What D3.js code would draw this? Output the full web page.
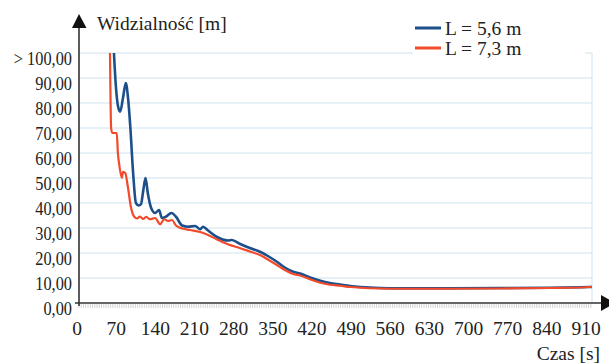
<!DOCTYPE html>
<html lang="pl">
<head>
<meta charset="UTF-8">
<title>Widzialność</title>
<script src="https://d3js.org/d3.v7.min.js"></script>
<style>
  body { margin: 0; background: #fff; }
</style>
</head>
<body>
<div id="chart"></div>
<script>
// time [s] and visibility [m] for both series (values above 100 are clipped)
const timeBlue = [62, 65, 69, 73, 78, 83, 87, 91, 96, 101, 106, 110, 114, 118, 122, 128, 135, 142, 147, 154, 164, 172, 183, 193, 206, 215, 220, 229, 244, 264, 271, 286, 303, 321, 335, 351, 365, 380, 392, 410, 428, 445, 463, 481, 499, 534, 569, 658, 747, 836, 889, 910];
const visBlue  = [100, 88, 79, 76.5, 82, 88, 82, 70.5, 52, 40, 39, 39.5, 45, 50, 44, 38, 36, 37.2, 34, 34.5, 36, 34.5, 31, 30.5, 30.8, 29.5, 30.5, 29, 26.5, 25, 25.2, 23.6, 22, 20.5, 18.8, 16.5, 14.2, 12.5, 11.8, 10.2, 8.9, 8.0, 7.4, 6.8, 6.4, 6.0, 5.9, 5.9, 6.0, 6.1, 6.3, 6.4];

const timeRed = [55, 57, 59, 67, 69, 71, 76, 78, 82, 87, 92, 98, 103, 108, 114, 119, 126, 135, 144, 151, 158, 165, 172, 183, 197, 215, 229, 244, 264, 286, 303, 321, 335, 351, 365, 380, 392, 410, 428, 445, 463, 481, 499, 534, 569, 658, 747, 836, 889, 910];
const visRed  = [100, 70, 68, 68, 60, 56, 50, 52.5, 52, 46, 38.5, 34.5, 33.8, 34.6, 33.6, 34.5, 33.5, 34, 31.5, 33.5, 32.8, 33.2, 31, 29.8, 29.2, 28.4, 27.2, 25.5, 23.5, 21.9, 20.6, 19.2, 17.4, 15.2, 13.2, 11.6, 11, 9.5, 8.1, 7.3, 6.9, 6.4, 6.1, 5.8, 5.7, 5.7, 5.8, 6.0, 6.2, 6.5];

const xTicks = [0, 70, 140, 210, 280, 350, 420, 490, 560, 630, 700, 770, 840, 910];
const yTicks = [0, 10, 20, 30, 40, 50, 60, 70, 80, 90, 100];
const yLabel = v => (v === 100 ? "> " : "") + v.toFixed(2).replace(".", ",");

const series = [
  { name: "L = 5,6 m", color: "#1d4f8b", width: 2.6, t: timeBlue, v: visBlue },
  { name: "L = 7,3 m", color: "#f24a2a", width: 2.2, t: timeRed, v: visRed }
];

const FONT = "'Liberation Serif', 'Times New Roman', 'DejaVu Serif', serif";
const W = 609, H = 364;
const svg = d3.select("#chart").append("svg")
  .attr("width", W)
  .attr("height", H)
  .attr("font-family", FONT)
  .style("font-family", FONT);

const x = d3.scaleLinear().domain([0, 910]).range([79, 592]);
// the category labels sit a little left of the plot scale
const xLab = d3.scaleLinear().domain([0, 910]).range([77, 586]);
const y = d3.scaleLinear().domain([0, 100]).range([303, 53]);

// gridlines
svg.append("g").selectAll("line")
  .data(yTicks.filter(d => d > 0))
  .enter().append("line")
  .attr("x1", x(0)).attr("x2", x(910))
  .attr("y1", d => y(d)).attr("y2", d => y(d))
  .attr("stroke", "#cde2ee").attr("stroke-width", 1);

svg.append("line")
  .attr("x1", x(910)).attr("x2", x(910))
  .attr("y1", y(100)).attr("y2", y(0))
  .attr("stroke", "#cde2ee").attr("stroke-width", 1);

// fine ticks under the x axis
svg.append("g").selectAll("line")
  .data(d3.range(0, 911, 4))
  .enter().append("line")
  .attr("x1", d => x(d)).attr("x2", d => x(d))
  .attr("y1", 304).attr("y2", 308)
  .attr("stroke", "#b8b8b8").attr("stroke-width", 0.6);

// lines
const line = d3.line().curve(d3.curveMonotoneX);
series.forEach(s => {
  const pts = s.t.map((t, i) => [x(t), y(s.v[i])]);
  svg.append("path")
    .attr("d", line(pts))
    .attr("fill", "none")
    .attr("stroke", s.color)
    .attr("stroke-width", s.width)
    .attr("stroke-linejoin", "round");
});

// axes with arrows
svg.append("line")
  .attr("x1", 79).attr("x2", 79)
  .attr("y1", 306).attr("y2", 26)
  .attr("stroke", "#333").attr("stroke-width", 1.6);
svg.append("path")
  .attr("d", "M72,28 L79,14 L86.5,28 Z")
  .attr("fill", "#111");

svg.append("line")
  .attr("x1", 75).attr("x2", 603)
  .attr("y1", 303).attr("y2", 303)
  .attr("stroke", "#333").attr("stroke-width", 1.6);
svg.append("path")
  .attr("d", "M601,295 L615,303 L601,311 Z")
  .attr("fill", "#111");

// y labels (slightly condensed in the original)
svg.append("g").selectAll("text")
  .data(yTicks)
  .enter().append("text")
  .attr("transform", d => `translate(72,${y(d) + 11.5}) scale(0.86,1)`)
  .attr("text-anchor", "end")
  .attr("font-size", 19)
  .attr("fill", "#222")
  .text(yLabel);

// x labels
svg.append("g").selectAll("text")
  .data(xTicks)
  .enter().append("text")
  .attr("x", d => xLab(d))
  .attr("y", 335)
  .attr("text-anchor", "middle")
  .attr("font-size", 19.5)
  .attr("fill", "#222")
  .text(d => d);

svg.append("text")
  .attr("x", 600).attr("y", 360)
  .attr("text-anchor", "end")
  .attr("font-size", 19.5)
  .attr("fill", "#222")
  .text("Czas [s]");

svg.append("text")
  .attr("x", 97).attr("y", 30)
  .attr("font-size", 19.5)
  .attr("fill", "#222")
  .text("Widzialność [m]");

// legend
svg.append("rect")
  .attr("x", 413).attr("y", 14)
  .attr("width", 172).attr("height", 42)
  .attr("fill", "#fff");
series.forEach((s, i) => {
  const ly = 28 + i * 20;
  svg.append("line")
    .attr("x1", 415).attr("x2", 441)
    .attr("y1", ly).attr("y2", ly)
    .attr("stroke", s.color).attr("stroke-width", 3);
  svg.append("text")
    .attr("x", 445).attr("y", ly + 7)
    .attr("font-size", 19.5)
    .attr("fill", "#222")
    .text(s.name);
});
</script>
</body>
</html>
